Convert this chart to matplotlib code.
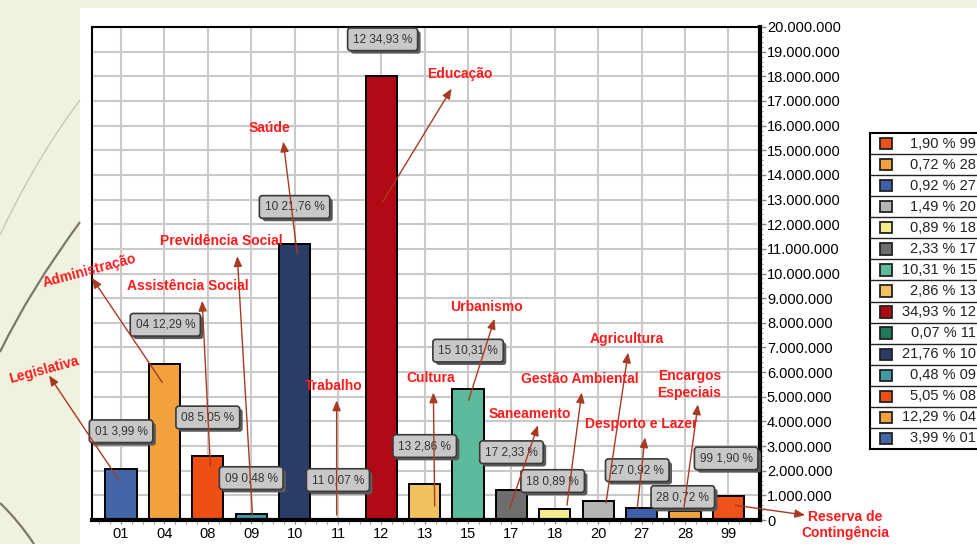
from matplotlib import pyplot as plt
from matplotlib.patches import Rectangle, PathPatch
from matplotlib.path import Path
from matplotlib.transforms import offset_copy
from matplotlib.ticker import FuncFormatter, MultipleLocator
import numpy as np

# Budget by function (values in R$)
codes = ["01", "04", "08", "09", "10", "11", "12", "13", "15", "17", "18", "20", "27", "28", "99"]
values = [2060000, 6330000, 2600000, 247000, 11210000, 36000, 18000000, 1474000,
          5310000, 1200000, 459000, 768000, 474000, 371000, 979000]
percents = ["3,99", "12,29", "5,05", "0,48", "21,76", "0,07", "34,93", "2,86",
            "10,31", "2,33", "0,89", "1,49", "0,92", "0,72", "1,90"]
colors = ["#4466a8", "#f2a23c", "#f04f14", "#3f9aa6", "#2a3d68", "#1d7a5c", "#b10a14",
          "#f2c25e", "#5cbb9c", "#6e6e6e", "#f4ec8a", "#b5b5b5", "#3f5fa8", "#f2a23c", "#f0521a"]

# label layout: (name, text x/y/rotation, arrow head xy, arrow tail xy) in data units (x index, y millions)
label_layout = [
    ("Legislativa", (-1.78, 6.1, 15), (-1.66, 5.86), (-0.05, 1.62)),
    ("Administração", (-0.74, 10.1, 15), (-0.67, 9.82), (0.95, 5.58)),
    ("Assistência Social", (1.55, 9.5, 0), (1.87, 8.89), (2.06, 2.18)),
    ("Previdência Social", (2.31, 11.3, 0), (2.68, 10.7), (3.03, 0.2)),
    ("Saúde", (3.42, 15.9, 0), (3.74, 15.35), (4.06, 10.8)),
    ("Trabalho", (4.9, 5.45, 0), (4.97, 4.85), (4.97, 0.2)),
    ("Educação", (7.8, 18.1, 0), (7.62, 17.5), (6.03, 12.9)),
    ("Cultura", (7.14, 5.78, 0), (7.2, 5.17), (7.23, 0.57)),
    ("Urbanismo", (8.43, 8.65, 0), (8.61, 8.16), (8.01, 4.85)),
    ("Saneamento", (9.42, 4.32, 0), (9.61, 3.84), (8.96, 0.48)),
    ("Gestão Ambiental", (10.58, 5.74, 0), (10.62, 5.17), (10.28, 0.6)),
    ("Agricultura", (11.66, 7.35, 0), (11.69, 6.79), (11.18, 0.69)),
    ("Desporto e Lazer", (12.0, 3.88, 0), (12.08, 3.35), (11.9, 0.48)),
    ("Encargos\nEspeciais", (13.1, 5.5, 0), (13.3, 4.69), (12.98, 0.53)),
    ("Reserva de\nContingência", (16.7, -0.2, 0), (15.77, 0.2), (14.16, 0.6)),
]

# value box centres (x index, y millions); code 20 has no box in the original
box_pos = {"01": (0, 3.6), "04": (1.02, 7.92), "08": (2.0, 4.16), "09": (3.0, 1.7),
           "10": (4.0, 12.7), "11": (5.0, 1.62), "12": (6.03, 19.5), "13": (7.0, 3.0),
           "15": (8.0, 6.87), "17": (9.0, 2.75), "18": (9.95, 1.58), "27": (11.9, 2.02),
           "28": (12.95, 0.93), "99": (13.95, 2.5)}

plt.rcParams["font.family"] = ["Liberation Sans", "DejaVu Sans"]

W, H = 977, 544
fig = plt.figure(figsize=(W / 100, H / 100), dpi=100, facecolor="#eef2df")

# white slide panel
fig.patches.append(Rectangle((80 / W, 0), 1, 1 - 8 / H, transform=fig.transFigure,
                             facecolor="white", edgecolor="none", zorder=-10))


# decorative curves on the slide background (pixel coords)
def curve(pts, color, lw):
    pts = [(x / W, 1 - y / H) for x, y in pts]
    p = Path(pts, [Path.MOVETO, Path.CURVE3, Path.CURVE3])
    fig.patches.append(PathPatch(p, transform=fig.transFigure, facecolor="none",
                                 edgecolor=color, lw=lw, zorder=-9))


curve([(80, 100), (35, 160), (0, 235)], "#c9c8b4", 1.0)
curve([(80, 222), (30, 290), (0, 352)], "#7c7a66", 1.6)
curve([(0, 503), (18, 520), (34, 544)], "#7c7a66", 1.6)

ax = fig.add_axes([92 / W, 1 - 520 / H, (760 - 92) / W, (520 - 27) / H])
x = np.arange(len(codes))
vals_m = np.array(values) / 1e6

ax.set_axisbelow(True)
ax.grid(True, color="#c9c9c9", lw=1.5)
ax.bar(x, vals_m, width=0.72, color=colors, edgecolor="black", lw=1.4, zorder=2)

ax.set_xlim(-0.67, 14.73)
ax.set_ylim(0, 20)
ax.set_xticks(x)
ax.set_xticklabels(codes, fontsize=10.5)
ax.yaxis.set_major_locator(MultipleLocator(1))
ax.yaxis.set_minor_locator(MultipleLocator(0.2))
ax.xaxis.set_minor_locator(MultipleLocator(0.25))
ax.yaxis.tick_right()
ax.yaxis.set_major_formatter(FuncFormatter(lambda v, p: f"{int(round(v * 1e6)):,}".replace(",", ".")))
ax.tick_params(axis="y", labelsize=10.5, length=4, width=1, color="#888888", pad=1)
ax.tick_params(axis="y", which="minor", length=2, color="#888888")
ax.tick_params(axis="x", length=3, color="#888888", pad=2)
ax.tick_params(axis="x", which="minor", length=3, color="#888888")
ax.spines["right"].set_linewidth(3)
ax.spines["bottom"].set_linewidth(3)
ax.spines["left"].set_linewidth(1.5)
ax.spines["top"].set_linewidth(1.5)
for s in ax.spines.values():
    s.set_zorder(5)

# value boxes with shadow
shadow_tr = offset_copy(ax.transData, fig=fig, x=3, y=-3, units="dots")
for i, c in enumerate(codes):
    if c not in box_pos:
        continue
    bx, by = box_pos[c]
    txt = f"{c} {percents[i]} %"
    kw = dict(ha="center", va="center", fontsize=8.5,
              family=["Liberation Sans Narrow", "Liberation Sans"], zorder=6)
    ax.text(bx, by, txt, color="none", transform=shadow_tr,
            bbox=dict(boxstyle="round,pad=0.45,rounding_size=0.25", fc="#5a5a5a", ec="none"), **kw)
    ax.text(bx, by, txt, color="#333333",
            bbox=dict(boxstyle="round,pad=0.45,rounding_size=0.25", fc="#c8c8c8", ec="#3a3a3a", lw=1.2), **kw)

# function names with arrows
for name, (tx, ty, rot), head, tail in label_layout:
    ax.annotate("", xy=head, xytext=tail, annotation_clip=False, zorder=8,
                arrowprops=dict(arrowstyle="-|>,head_length=0.6,head_width=0.25",
                                color="#a83a22", lw=1.0, shrinkA=0, shrinkB=0))
    ax.text(tx, ty, name, color="#ff1a1a", fontsize=10, fontweight="bold", ha="center",
            va="center", rotation=rot, clip_on=False, zorder=9, linespacing=1.25)

# legend table
lax = fig.add_axes([870 / W, 1 - 449 / H, 110 / W, 316 / H])
lax.set_xlim(0, 1)
lax.set_ylim(0, len(codes))
lax.set_xticks([])
lax.set_yticks([])
for s in lax.spines.values():
    s.set_linewidth(1.5)
for i in range(len(codes)):
    yc = i + 0.5
    lax.add_patch(Rectangle((0.09, yc - 0.27), 0.11, 0.54, facecolor=colors[i],
                            edgecolor="#222222", lw=1.3))
    lax.text(0.965, yc, f"{percents[i]} % {codes[i]}", ha="right", va="center",
             fontsize=10.5, color="#222222")
    if i > 0:
        lax.axhline(i, color="#222222", lw=1)

fig.savefig("out.png", dpi=100, facecolor=fig.get_facecolor())
